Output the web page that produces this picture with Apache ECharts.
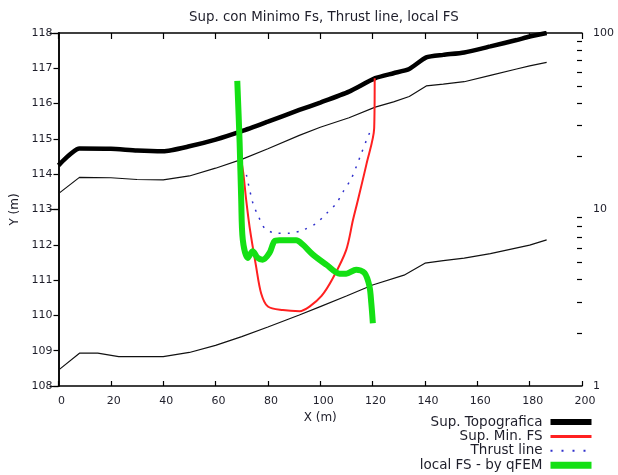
<!DOCTYPE html>
<html>
<head>
<meta charset="utf-8">
<script src="https://cdn.jsdelivr.net/npm/echarts@6/dist/echarts.min.js"></script>
<style>
  html, body { margin: 0; padding: 0; background: #fff; }
  #chart { width: 618px; height: 475px; }
</style>
</head>
<body>
<div id="chart"></div>
<script>
// Ground profile (thick) and the two thin stratigraphic lines
const topoX = [0, 8, 20, 30, 40, 50, 60, 70, 80, 92, 100, 111, 121, 128, 134, 140.5, 147, 155, 165, 175, 180, 186.5];
const topoY = [114.25, 114.73, 114.72, 114.67, 114.65, 114.79, 114.98, 115.22, 115.49, 115.82, 116.03, 116.34, 116.72, 116.86, 116.98, 117.31, 117.38, 117.45, 117.62, 117.8, 117.9, 118.0];
const layer1Y = [113.45, 113.91, 113.9, 113.85, 113.84, 113.95, 114.17, 114.42, 114.72, 115.1, 115.33, 115.6, 115.9, 116.05, 116.2, 116.5, 116.55, 116.62, 116.8, 116.98, 117.07, 117.17];
const layer2X = [0, 8, 15, 23, 40, 50, 60, 70, 80, 92, 100, 110, 120, 132, 140, 147, 155, 165, 180, 186.5];
const layer2Y = [108.45, 108.93, 108.93, 108.83, 108.83, 108.95, 109.15, 109.4, 109.67, 110.01, 110.25, 110.55, 110.86, 111.14, 111.48, 111.55, 111.62, 111.75, 111.99, 112.14];

// Critical slip surface (minimum FS)
const slipX = [69.8, 70.6, 71.7, 73.0, 75.5, 77.4, 80, 85.7, 92.1, 95.9, 100.5, 104.8, 109.9, 112.5, 114.4, 117.7, 120.6, 120.8];
const slipY = [114.4, 114.03, 113.27, 112.51, 111.38, 110.63, 110.25, 110.15, 110.12, 110.25, 110.55, 111.05, 111.85, 112.7, 113.27, 114.3, 115.3, 116.72];

// Thrust line
const thrustX = [71.8, 74.3, 76.2, 78.8, 83.2, 88.3, 93.4, 98.5, 102.4, 106.2, 108.7, 111.9, 115.7, 117.7, 119.6];
const thrustY = [113.98, 113.17, 112.84, 112.47, 112.33, 112.33, 112.42, 112.61, 112.89, 113.18, 113.5, 113.88, 114.59, 114.97, 115.3];

// Local factor of safety along the surface (right log axis)
const fsX = [68.3, 69.2, 69.8, 70.4, 72.3, 74.2, 76.0, 78.0, 80.6, 82.5, 84.4, 87.0, 90.8, 93.3, 97.2, 102.3, 107.4, 109.9, 113.7, 116.9, 118.8, 119.5, 120.1];
const fsVal = [53.6, 23.9, 11.4, 6.75, 5.32, 5.80, 5.34, 5.20, 5.67, 6.61, 6.69, 6.69, 6.69, 6.33, 5.55, 4.87, 4.33, 4.33, 4.56, 4.37, 3.67, 2.95, 2.27];

const fsMinorTicks = [2, 3, 4, 5, 6, 7, 8, 9, 20, 30, 40, 50, 60, 70, 80, 90];

const zip = (xs, ys) => xs.map((x, i) => [x, ys[i]]);

const FONT = 'DejaVu Sans';
const TXT = '#1e1e2a';
const C_TOPO = '#000000';
const C_SLIP = '#ff2020';
const C_THRUST = '#3030cc';
const C_FS = '#14e014';

const chart = echarts.init(document.getElementById('chart'), null, { renderer: 'canvas' });
chart.setOption({
  backgroundColor: '#ffffff',
  animation: false,
  title: {
    text: 'Sup. con Minimo Fs, Thrust line, local FS',
    left: 184,
    top: 6,
    textStyle: { fontFamily: FONT, fontSize: 13.4, fontWeight: 'normal', color: TXT }
  },
  legend: {
    orient: 'vertical',
    right: 23,
    top: 415,
    align: 'right',
    padding: 0,
    itemGap: 0.4,
    itemWidth: 41,
    itemHeight: 12,
    itemStyle: { opacity: 0 },
    textStyle: { fontFamily: FONT, fontSize: 13.5, lineHeight: 13, color: TXT, padding: [0, 3, 0, 0] },
    data: [
      { name: 'Sup. Topografica', lineStyle: { width: 6, color: C_TOPO } },
      { name: 'Sup. Min. FS', lineStyle: { width: 3, color: C_SLIP } },
      { name: 'Thrust line', lineStyle: { width: 2, color: C_THRUST, type: [2, 9] } },
      { name: 'local FS - by qFEM', lineStyle: { width: 7, color: C_FS } }
    ]
  },
  grid: { left: 58.5, right: 36, top: 33, bottom: 89, containLabel: false },
  xAxis: [
    {
      type: 'value', min: 0, max: 200, interval: 20,
      name: 'X (m)', nameLocation: 'middle', nameGap: 21,
      nameTextStyle: { fontFamily: FONT, fontSize: 12, color: TXT },
      axisLine: { lineStyle: { color: '#000', width: 1.5 } },
      axisTick: { inside: true, length: 5, lineStyle: { color: '#000', width: 1.2 } },
      axisLabel: { fontFamily: FONT, fontSize: 11, color: TXT, margin: 10, padding: [0, 0, 0, 6] },
      splitLine: { show: false }
    },
    {
      type: 'value', min: 0, max: 200, interval: 20, position: 'top',
      axisLine: { lineStyle: { color: '#000', width: 1.5 } },
      axisTick: { inside: true, length: 6, lineStyle: { color: '#000', width: 1.2 } },
      axisLabel: { show: false },
      splitLine: { show: false }
    }
  ],
  yAxis: [
    {
      type: 'value', min: 108, max: 118, interval: 1,
      name: 'Y (m)', nameLocation: 'middle', nameGap: 29,
      nameTextStyle: { fontFamily: FONT, fontSize: 12, color: TXT },
      axisLine: { lineStyle: { color: '#000', width: 1.5 } },
      axisTick: { inside: false, length: 5, lineStyle: { color: '#000', width: 1.2 } },
      axisLabel: { fontFamily: FONT, fontSize: 11, color: TXT, margin: 6 },
      splitLine: { show: false }
    },
    {
      type: 'log', logBase: 10, min: 1, max: 100, position: 'right',
      axisLine: { show: true, lineStyle: { color: '#000', width: 1.5 } },
      axisTick: { inside: true, length: 9, lineStyle: { color: '#000', width: 1.2 } },
      axisLabel: { fontFamily: FONT, fontSize: 11, color: TXT, margin: 11 },
      splitLine: { show: false }
    },
    {
      type: 'log', logBase: 10, min: 1, max: 100, position: 'right',
      axisLine: { show: false },
      axisTick: { inside: true, length: 5, customValues: fsMinorTicks, lineStyle: { color: '#000', width: 1.2 } },
      axisLabel: { show: false },
      splitLine: { show: false }
    }
  ],
  series: [
    {
      name: 'layer1', type: 'line', data: zip(topoX, layer1Y),
      symbol: 'none', lineStyle: { color: '#111', width: 1.2 }, silent: true, z: 2
    },
    {
      name: 'layer2', type: 'line', data: zip(layer2X, layer2Y),
      symbol: 'none', lineStyle: { color: '#111', width: 1.2 }, silent: true, z: 2
    },
    {
      name: 'Sup. Topografica', type: 'line', data: zip(topoX, topoY),
      symbol: 'none', smooth: 0.2, lineStyle: { color: C_TOPO, width: 4.5 }, itemStyle: { color: C_TOPO }, z: 3
    },
    {
      name: 'Sup. Min. FS', type: 'line', data: zip(slipX, slipY),
      symbol: 'none', smooth: 0.3, lineStyle: { color: C_SLIP, width: 2 }, itemStyle: { color: C_SLIP }, z: 4
    },
    {
      name: 'Thrust line', type: 'line', data: zip(thrustX, thrustY),
      symbol: 'none', smooth: 0.3, lineStyle: { color: C_THRUST, width: 1.5, type: [2, 7] }, itemStyle: { color: C_THRUST }, z: 4
    },
    {
      name: 'local FS - by qFEM', type: 'line', yAxisIndex: 1, data: zip(fsX, fsVal),
      symbol: 'none', smooth: 0.3, lineStyle: { color: C_FS, width: 6 }, itemStyle: { color: C_FS }, z: 5
    }
  ]
});
</script>
</body>
</html>
